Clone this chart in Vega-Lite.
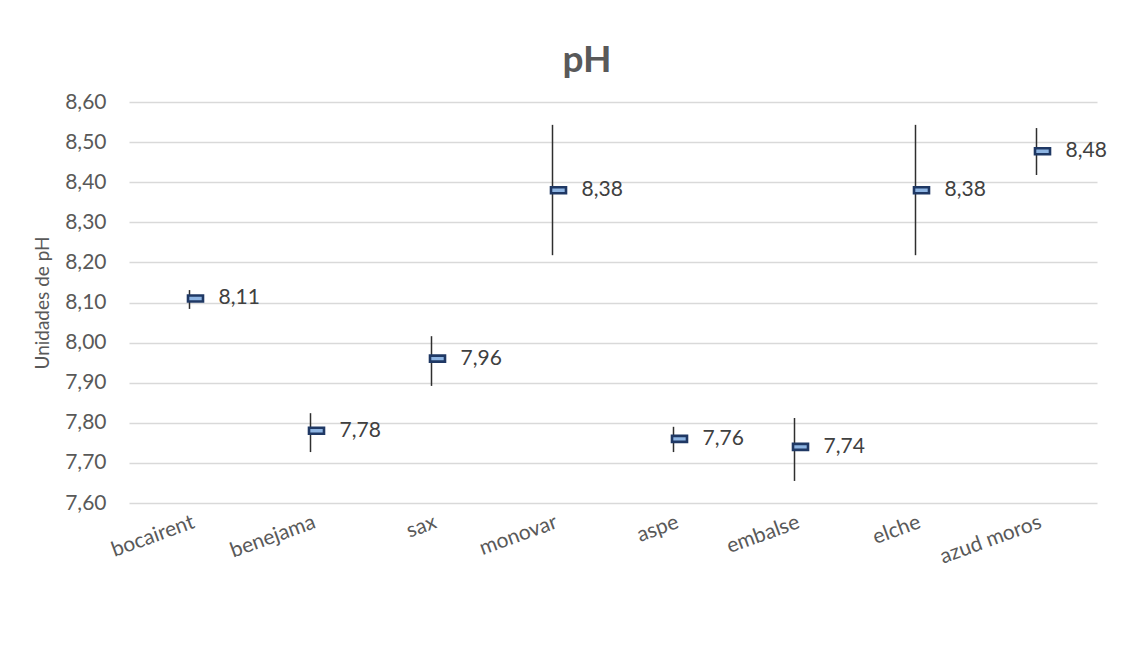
{
  "$schema": "https://vega.github.io/schema/vega-lite/v6.json",
  "autosize": "none",
  "width": 968,
  "height": 401,
  "padding": {"left": 129, "top": 102, "right": 34, "bottom": 143},
  "background": "white",
  "title": {
    "text": "pH",
    "font": "Lato",
    "fontSize": 37,
    "fontWeight": "bold",
    "color": "#595959",
    "anchor": "middle",
    "dx": -26,
    "offset": 11
  },
  "data": {
    "values": [
      {"site": "bocairent", "mean": 8.11, "low": 8.084, "high": 8.131},
      {"site": "benejama", "mean": 7.78, "low": 7.727, "high": 7.824},
      {"site": "sax", "mean": 7.96, "low": 7.892, "high": 8.016},
      {"site": "monovar", "mean": 8.38, "low": 8.218, "high": 8.543},
      {"site": "aspe", "mean": 7.76, "low": 7.727, "high": 7.79},
      {"site": "embalse", "mean": 7.74, "low": 7.655, "high": 7.812},
      {"site": "elche", "mean": 8.38, "low": 8.218, "high": 8.543},
      {"site": "azud moros", "mean": 8.477, "low": 8.418, "high": 8.535}
    ]
  },
  "encoding": {
    "x": {
      "field": "site",
      "type": "nominal",
      "sort": null,
      "scale": {"type": "point", "padding": 0.5},
      "axis": {
        "title": null,
        "labelAngle": -20,
        "labelAlign": "right",
        "labelBaseline": "top",
        "labelFont": "Lato",
        "labelFontSize": 21,
        "labelColor": "#595959",
        "labelPadding": 8,
        "ticks": false,
        "domain": false,
        "grid": false
      }
    }
  },
  "layer": [
    {
      "mark": {"type": "rule", "color": "#2f2f2f", "strokeWidth": 1.5},
      "encoding": {
        "y": {
          "field": "low",
          "type": "quantitative",
          "scale": {"domain": [7.6, 8.6], "nice": false, "zero": false},
          "axis": {
            "title": "Unidades de pH",
            "titleFont": "Lato",
            "titleFontSize": 19,
            "titleFontWeight": "normal",
            "titleColor": "#595959",
            "titlePadding": 12,
            "values": [7.6, 7.7, 7.8, 7.9, 8.0, 8.1, 8.2, 8.3, 8.4, 8.5, 8.6],
            "labelExpr": "replace(format(datum.value, '.2f'), '.', ',')",
            "labelFont": "Lato",
            "labelFontSize": 21,
            "labelColor": "#595959",
            "labelPadding": 23,
            "ticks": false,
            "domain": false,
            "grid": true,
            "gridColor": "#D9D9D9",
            "gridWidth": 1.5
          }
        },
        "y2": {"field": "high"}
      }
    },
    {
      "mark": {
        "type": "point",
        "shape": "M-1,-0.4L1,-0.4L1,0.4L-1,0.4Z",
        "size": 225,
        "filled": true,
        "fill": "#8DB4E2",
        "stroke": "#1F3864",
        "strokeWidth": 2.6,
        "opacity": 1,
        "xOffset": 6
      },
      "encoding": {
        "y": {"field": "mean", "type": "quantitative"}
      }
    },
    {
      "mark": {
        "type": "text",
        "align": "left",
        "baseline": "middle",
        "dx": 29,
        "font": "Lato",
        "fontSize": 21,
        "color": "#404040"
      },
      "encoding": {
        "y": {"field": "mean", "type": "quantitative"},
        "text": {"field": "mean", "type": "quantitative", "format": ".2f"}
      }
    }
  ],
  "config": {
    "view": {"stroke": null},
    "locale": {"number": {"decimal": ",", "thousands": ".", "grouping": [3], "currency": ["", " €"]}}
  }
}
